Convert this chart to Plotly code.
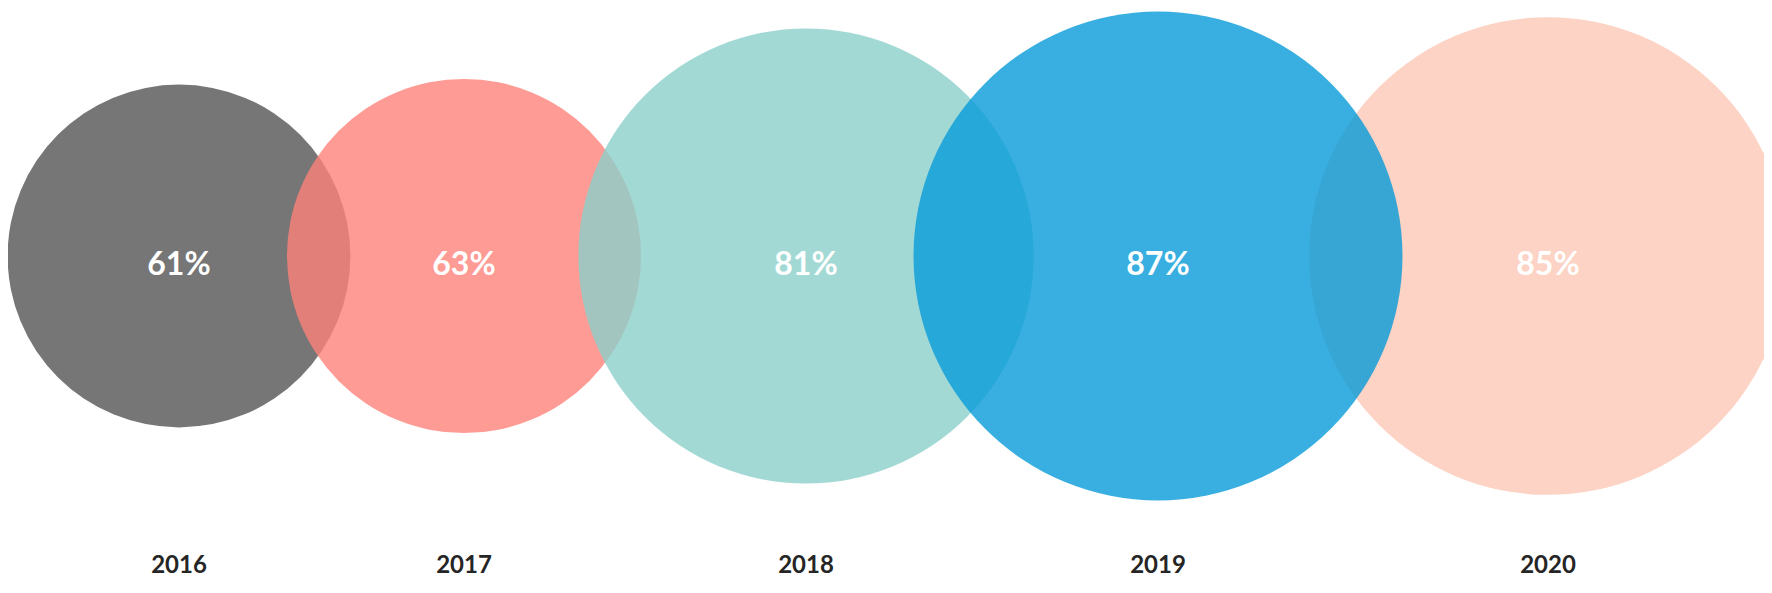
import plotly.graph_objects as go

# ---- data ----
years = ["2016", "2017", "2018", "2019", "2020"]
values = [61, 63, 81, 87, 85]
labels = [f"{v}%" for v in values]

# ---- layout / style ----
x_pos = [171, 456, 798, 1150, 1540]
circle_y = 248
pct_y = 259
year_y = 559
colors = [
    "rgba(84,84,84,0.8)",
    "rgba(255,130,123,0.8)",
    "rgba(140,208,202,0.8)",
    "rgba(6,155,216,0.8)",
    "rgba(251,200,181,0.8)",
]
draw_order = [0, 1, 2, 4, 3]  # blue drawn above peach
px_per_unit = 2.81  # radius in px per percentage point

fig = go.Figure()
for i in draw_order:
    fig.add_trace(go.Scatter(
        x=[x_pos[i]], y=[circle_y],
        mode="markers",
        marker=dict(
            size=[values[i]],
            sizemode="diameter",
            sizeref=1 / (2 * px_per_unit),
            color=colors[i],
            opacity=1,
            line=dict(width=0),
        ),
        hoverinfo="skip",
        showlegend=False,
    ))

fig.add_trace(go.Scatter(
    x=x_pos, y=[pct_y] * len(values),
    mode="text",
    text=labels,
    textposition="middle center",
    textfont=dict(family="Lato", size=32, color="white", weight=700),
    hoverinfo="skip",
    showlegend=False,
))

fig.add_trace(go.Scatter(
    x=x_pos, y=[year_y] * len(years),
    mode="text",
    text=years,
    textposition="middle center",
    textfont=dict(family="Lato", size=24, color="#252525", weight=700),
    hoverinfo="skip",
    showlegend=False,
))

fig.update_layout(
    width=1772, height=593,
    margin=dict(l=0, r=0, t=0, b=0),
    paper_bgcolor="white",
    plot_bgcolor="white",
    xaxis=dict(range=[0, 1772], visible=False, fixedrange=True),
    yaxis=dict(range=[593, 0], visible=False, fixedrange=True),
)

fig.write_html("out.html")
